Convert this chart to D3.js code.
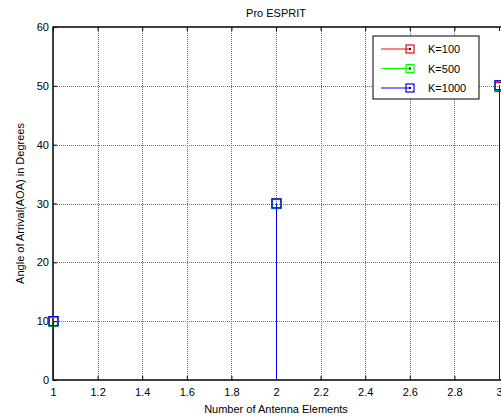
<!DOCTYPE html>
<html>
<head>
<meta charset="utf-8">
<script src="https://cdn.jsdelivr.net/npm/d3@7"></script>
<style>
  body { margin: 0; background: #fff; }
  text { font-family: "Liberation Sans", Arial, sans-serif; }
</style>
</head>
<body>
<div id="chart"></div>
<script>
// data
const elements = [1, 2, 3];
const k100 = [10, 30, 49.8];
const k500 = [9.9, 29.9, 50];
const k1000 = [10, 30, 50.1];
const seriesNames = ["K=100", "K=500", "K=1000"];
const seriesColors = ["#ff0000", "#00ff00", "#0000ff"];
const xTicks = [1, 1.2, 1.4, 1.6, 1.8, 2, 2.2, 2.4, 2.6, 2.8, 3];
const yTicks = [0, 10, 20, 30, 40, 50, 60];

const W = 501, H = 419;
const margin = {top: 27, right: 2, bottom: 39, left: 53};

const svg = d3.select("#chart").append("svg")
    .attr("width", W)
    .attr("height", H);

const x = d3.scaleLinear().domain([1, 3]).range([margin.left, W - margin.right]);
const y = d3.scaleLinear().domain([0, 60]).range([H - margin.bottom, margin.top]);
const px = v => Math.round(x(v)) + 0.5;
const py = v => Math.round(y(v)) + 0.5;

// grid
const grid = svg.append("g").attr("stroke", "#707070").attr("stroke-width", 1)
    .attr("stroke-dasharray", "1,1").attr("shape-rendering", "crispEdges");
grid.selectAll(".gx").data(xTicks.slice(1, -1)).enter().append("line")
    .attr("x1", d => px(d)).attr("x2", d => px(d))
    .attr("y1", y(0)).attr("y2", y(60));
grid.selectAll(".gy").data(yTicks.slice(1, -1)).enter().append("line")
    .attr("x1", x(1)).attr("x2", x(3))
    .attr("y1", d => py(d)).attr("y2", d => py(d));

// axes
const xAxis = svg.append("g")
    .attr("transform", `translate(0,${y(0)})`)
    .call(d3.axisBottom(x).tickValues(xTicks).tickSize(-4).tickPadding(8).tickFormat(d3.format("")));
const xTop = svg.append("g")
    .attr("transform", `translate(0,${y(60)})`)
    .call(d3.axisTop(x).tickValues(xTicks).tickSize(-4).tickFormat(""));
const yAxis = svg.append("g")
    .attr("transform", `translate(${x(1)},0)`)
    .call(d3.axisLeft(y).tickValues(yTicks).tickSize(-4).tickPadding(4));
[xAxis, xTop, yAxis].forEach(a => {
    a.select(".domain").remove();
    a.selectAll("text").attr("font-size", 11).attr("fill", "#000");
    a.selectAll("line").attr("stroke", "#000");
});

// box
svg.append("rect")
    .attr("x", x(1)).attr("y", y(60))
    .attr("width", W - x(1) + 2).attr("height", y(0) - y(60))
    .attr("fill", "none").attr("stroke", "#000").attr("stroke-width", 1.5);

// stems
const all = [k100, k500, k1000];
all.forEach((vals, i) => {
    const g = svg.append("g");
    g.selectAll("line").data(vals).enter().append("line")
        .attr("x1", (d, j) => px(elements[j])).attr("x2", (d, j) => px(elements[j]))
        .attr("y1", y(0)).attr("y2", d => y(d))
        .attr("stroke", seriesColors[i]).attr("stroke-width", 1);
    g.selectAll("rect").data(vals).enter().append("rect")
        .attr("x", (d, j) => px(elements[j]) - 4.5).attr("y", d => y(d) - 4.5)
        .attr("width", 9).attr("height", 9)
        .attr("fill", "none").attr("stroke", seriesColors[i]).attr("stroke-width", 1.3);
});

// title and labels
svg.append("text").attr("x", (x(1) + x(3)) / 2).attr("y", 17)
    .attr("text-anchor", "middle").attr("font-size", 11).text("Pro ESPRIT");
svg.append("text").attr("x", (x(1) + x(3)) / 2).attr("y", 413)
    .attr("text-anchor", "middle").attr("font-size", 11).text("Number of Antenna Elements");
svg.append("text")
    .attr("transform", `translate(24,${(y(0) + y(60)) / 2}) rotate(-90)`)
    .attr("text-anchor", "middle").attr("font-size", 11).text("Angle of Arrival(AOA) in Degrees");

// legend
const leg = svg.append("g").attr("transform", "translate(373,36)");
leg.append("rect").attr("width", 106).attr("height", 63)
    .attr("fill", "#fff").attr("stroke", "#000").attr("stroke-width", 1);
const rows = leg.selectAll(".row").data(seriesNames).enter().append("g")
    .attr("transform", (d, i) => `translate(0,${13 + i * 19.5})`);
rows.append("line").attr("x1", 8).attr("x2", 37)
    .attr("stroke", (d, i) => seriesColors[i]).attr("stroke-width", 1);
rows.append("rect").attr("x", 33).attr("y", -4).attr("width", 8).attr("height", 8)
    .attr("fill", "none").attr("stroke", (d, i) => seriesColors[i]).attr("stroke-width", 1.2);
rows.append("rect").attr("x", 36).attr("y", -1).attr("width", 2).attr("height", 2)
    .attr("fill", "#000");
rows.append("text").attr("x", 55).attr("y", 4).attr("font-size", 11).text(d => d);
</script>
</body>
</html>
